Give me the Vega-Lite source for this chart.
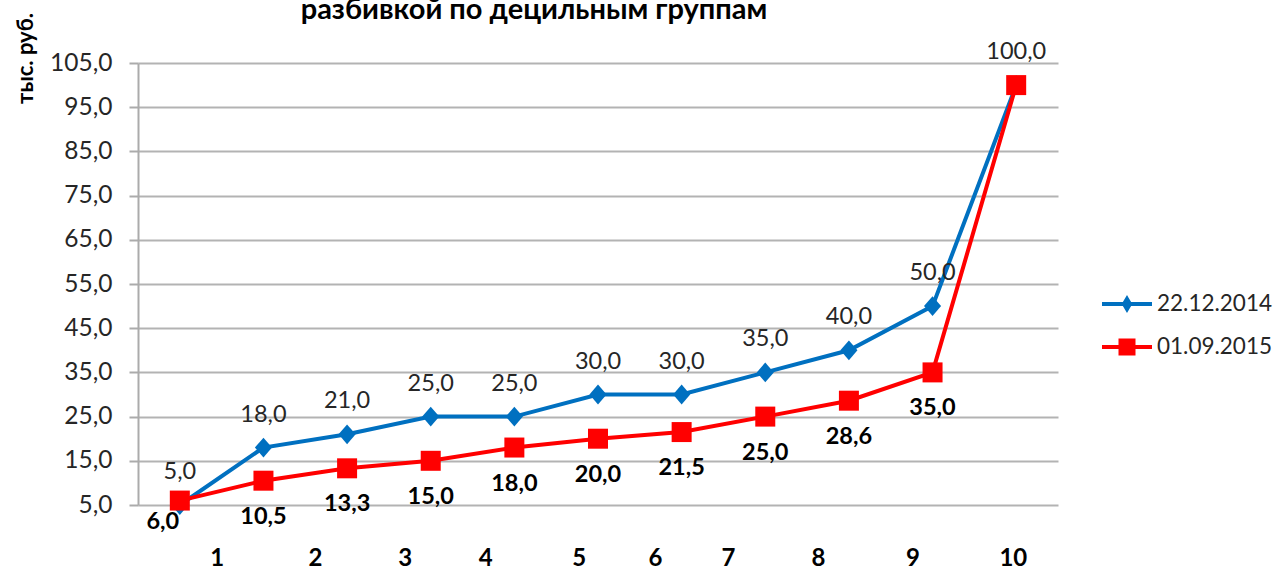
{
  "$schema": "https://vega.github.io/schema/vega-lite/v6.json",
  "autosize": {"type": "none"},
  "width": 920,
  "height": 442,
  "padding": {"left": 138, "top": 63, "right": 215, "bottom": 68},
  "background": "white",
  "config": {
    "locale": {"number": {"decimal": ",", "thousands": " ", "grouping": [3], "currency": ["", ""]}},
    "view": {"stroke": null},
    "font": "Lato"
  },
  "title": {
    "text": "разбивкой по децильным группам",
    "font": "Lato", "fontSize": 29, "fontWeight": "bold", "color": "#000000",
    "anchor": "middle", "dx": -64, "baseline": "alphabetic", "offset": 0, "dy": 35
  },
  "data": {
    "values": [
      {"i": 0, "series": "22.12.2014", "value": 5},
      {"i": 1, "series": "22.12.2014", "value": 18},
      {"i": 2, "series": "22.12.2014", "value": 21},
      {"i": 3, "series": "22.12.2014", "value": 25},
      {"i": 4, "series": "22.12.2014", "value": 25},
      {"i": 5, "series": "22.12.2014", "value": 30},
      {"i": 6, "series": "22.12.2014", "value": 30},
      {"i": 7, "series": "22.12.2014", "value": 35},
      {"i": 8, "series": "22.12.2014", "value": 40},
      {"i": 9, "series": "22.12.2014", "value": 50},
      {"i": 10, "series": "22.12.2014", "value": 100},
      {"i": 0, "series": "01.09.2015", "value": 6},
      {"i": 1, "series": "01.09.2015", "value": 10.5},
      {"i": 2, "series": "01.09.2015", "value": 13.3},
      {"i": 3, "series": "01.09.2015", "value": 15},
      {"i": 4, "series": "01.09.2015", "value": 18},
      {"i": 5, "series": "01.09.2015", "value": 20},
      {"i": 6, "series": "01.09.2015", "value": 21.5},
      {"i": 7, "series": "01.09.2015", "value": 25},
      {"i": 8, "series": "01.09.2015", "value": 28.6},
      {"i": 9, "series": "01.09.2015", "value": 35},
      {"i": 10, "series": "01.09.2015", "value": 100}
    ]
  },
  "encoding": {
    "x": {
      "field": "i", "type": "quantitative",
      "scale": {"domain": [-0.5, 10.5], "nice": false, "zero": false},
      "axis": {
        "title": null, "domain": false, "ticks": false, "grid": false,
        "values": [0.44, 1.615, 2.69, 3.65, 4.77, 5.68, 6.555, 7.63, 8.76, 9.96],
        "labelExpr": "floor(datum.value) + 1",
        "labelFont": "Lato", "labelFontSize": 24, "labelFontWeight": "bold", "labelColor": "#000000",
        "labelPadding": 53, "labelBaseline": "middle", "labelFlush": false, "labelOverlap": false
      }
    },
    "y": {
      "field": "value", "type": "quantitative",
      "scale": {"domain": [5, 105], "nice": false, "zero": false},
      "axis": {
        "values": [5, 15, 25, 35, 45, 55, 65, 75, 85, 95, 105],
        "format": ".1f",
        "labelFont": "Lato", "labelFontSize": 24.5, "labelColor": "#262626",
        "labelPadding": 17, "tickSize": 9, "tickColor": "#ababab", "tickWidth": 2,
        "domainColor": "#ababab", "domainWidth": 2,
        "grid": true, "gridColor": "#b3b3b3", "gridWidth": 2,
        "title": "тыс. руб.", "titleFont": "Lato", "titleFontSize": 22, "titleFontWeight": "bold", "titleColor": "#000000",
        "titleAngle": -90, "titleAlign": "center", "titleBaseline": "middle",
        "titleX": -113, "titleY": -5
      }
    }
  },
  "layer": [
    {
      "transform": [{"filter": "datum.series === '22.12.2014'"}],
      "mark": {"type": "line", "strokeWidth": 4},
      "encoding": {
        "color": {
          "field": "series", "type": "nominal",
          "scale": {"domain": ["22.12.2014", "01.09.2015"], "range": ["#0070C0", "#FF0000"]},
          "legend": {
            "orient": "none", "legendX": 977, "legendY": 229, "title": null,
            "labelFont": "Lato", "labelFontSize": 22.5, "labelColor": "#262626",
            "symbolSize": 400, "symbolStrokeWidth": 4, "rowPadding": 15, "labelOffset": 18,
            "encode": {
              "symbols": {
                "update": {
                  "shape": {"signal": "datum.value === '22.12.2014' ? 'M-2.5,0H2.5M0,-0.5L0.3,0L0,0.5L-0.3,0Z' : 'M-2.5,0H2.5M-0.65,-0.65H0.65V0.65H-0.65Z'"},
                  "fill": {"signal": "datum.value === '22.12.2014' ? '#0070C0' : '#FF0000'"},
                  "stroke": {"signal": "datum.value === '22.12.2014' ? '#0070C0' : '#FF0000'"},
                  "strokeWidth": {"value": 4},
                  "opacity": {"value": 1}
                }
              }
            }
          }
        }
      }
    },
    {
      "transform": [{"filter": "datum.series === '22.12.2014'"}],
      "mark": {"type": "point", "shape": "M0,-1.1L0.95,0L0,1.1L-0.95,0Z", "filled": true, "size": 324, "color": "#0070C0", "opacity": 1}
    },
    {
      "transform": [{"filter": "datum.series === '01.09.2015'"}],
      "mark": {"type": "line", "strokeWidth": 4},
      "encoding": {
        "color": {"field": "series", "type": "nominal", "legend": null}
      }
    },
    {
      "transform": [{"filter": "datum.series === '01.09.2015'"}],
      "mark": {"type": "point", "shape": "square", "filled": true, "size": 400, "color": "#FF0000", "opacity": 1}
    },
    {
      "transform": [{"filter": "datum.series === '22.12.2014'"}],
      "mark": {"type": "text", "dy": -33, "baseline": "middle", "align": "center", "font": "Lato", "fontSize": 23.5, "color": "#262626"},
      "encoding": {"text": {"field": "value", "type": "quantitative", "format": ".1f"}}
    },
    {
      "transform": [{"filter": "datum.series === '01.09.2015' && datum.i > 0 && datum.i < 10"}],
      "mark": {"type": "text", "dy": 36, "baseline": "middle", "align": "center", "font": "Lato", "fontSize": 23.5, "fontWeight": "bold", "color": "#000000"},
      "encoding": {"text": {"field": "value", "type": "quantitative", "format": ".1f"}}
    },
    {
      "transform": [{"filter": "datum.series === '01.09.2015' && datum.i === 0"}],
      "mark": {"type": "text", "dx": -17, "dy": 21, "baseline": "middle", "align": "center", "font": "Lato", "fontSize": 23.5, "fontWeight": "bold", "color": "#000000"},
      "encoding": {"text": {"field": "value", "type": "quantitative", "format": ".1f"}}
    }
  ]
}
